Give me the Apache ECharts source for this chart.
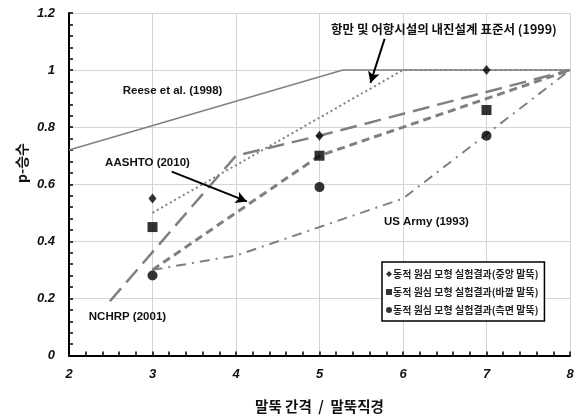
<!DOCTYPE html>
<html><head><meta charset="utf-8">
<script src="https://cdn.jsdelivr.net/npm/echarts@6/dist/echarts.min.js"></script>
<style>html,body{margin:0;padding:0;background:#fff}#c{width:583px;height:419px}</style>
</head><body><div id="c"></div>
<script>
// Design curves [s/D, p-multiplier]
var reese = [[2,0.72],[5.28,1.0],[8,1.0]];
var harbor = [[3,0.5],[6,1.0],[8,1.0]];
var aashto = [[3,0.3],[5,0.7],[8,1.0]];
var nchrp = [[2.49,0.19],[4,0.7],[5,0.77],[8,1.0]];
var usArmy = [[3,0.3],[4,0.35],[6,0.55],[8,1.0]];
// Test results
var centerPile = [[3,0.55],[5,0.77],[7,1.0]];
var outerPile = [[3,0.45],[5,0.70],[7,0.86]];
var sidePile = [[3,0.28],[5,0.59],[7,0.77]];
var seriesNames = ['동적 원심 모형 실험결과(중앙 말뚝)','동적 원심 모형 실험결과(바깥 말뚝)','동적 원심 모형 실험결과(측면 말뚝)'];
var xTicks = [2,3,4,5,6,7,8];
var yTicks = [0,0.2,0.4,0.6,0.8,1,1.2];
var yTitle = 'p-승수';

var gray = '#808080';
var latin = '"Liberation Sans", Arial, sans-serif';
var kr = '"Noto Sans CJK KR", sans-serif';
function lineSeries(name, data, width, type){
  return {name:name, type:'line', data:data, symbol:'none', silent:true,
    lineStyle:{color:gray, width:width, type:type}, z:2};
}
var chart = echarts.init(document.getElementById('c'));
chart.setOption({
  animation:false,
  grid:{left:69, right:13, top:13, bottom:60},
  xAxis:{type:'value', min:2, max:8, interval:1,
    axisLine:{lineStyle:{color:'#000', width:2}},
    axisTick:{inside:true, length:4, lineStyle:{color:'#000', width:1.5}},
    minorTick:{show:true, splitNumber:5, length:4, lineStyle:{color:'#000', width:1.5}},
    splitLine:{show:true, lineStyle:{color:'#d4d4d4', width:1}},
    axisLabel:{fontFamily:latin, fontWeight:'bold', fontStyle:'italic', fontSize:13, color:'#111', margin:12,
      formatter:function(v){return xTicks.indexOf(v)>=0 ? String(v) : '';}},
    name:'말뚝 간격  /  말뚝직경', nameLocation:'middle', nameGap:44, nameMoveOverlap:false,
    nameTextStyle:{fontFamily:kr, fontWeight:'bold', fontSize:14.5, color:'#111'}
  },
  yAxis:{type:'value', min:0, max:1.2, interval:0.2,
    axisLine:{show:true, lineStyle:{color:'#000', width:2}},
    axisTick:{show:true, inside:true, length:4, lineStyle:{color:'#000', width:1.5}},
    minorTick:{show:true, splitNumber:5, length:4, lineStyle:{color:'#000', width:1.5}},
    splitLine:{show:true, lineStyle:{color:'#d4d4d4', width:1}},
    axisLabel:{fontFamily:latin, fontWeight:'bold', fontStyle:'italic', fontSize:13, color:'#111', margin:14,
      formatter:function(v){var r=Math.round(v*10)/10; return String(r);}}
  },
  legend:{data:seriesNames, orient:'vertical', left:382, top:262, width:163,
    backgroundColor:'#fff', borderColor:'#000', borderWidth:1.5, padding:[7,6,6,4],
    itemWidth:6, itemHeight:6, itemGap:8,
    textStyle:{fontFamily:kr, fontSize:10, fontWeight:'bold', color:'#222', padding:[0,0,0,-4]}
  },
  series:[
    lineSeries('Reese', reese, 1.5, 'solid'),
    lineSeries('Harbor', harbor, 2, [2,3]),
    lineSeries('AASHTO', aashto, 3, [8,5]),
    lineSeries('NCHRP', nchrp, 2.5, [17,8]),
    lineSeries('USArmy', usArmy, 2, [10,6,2,6]),
    {name:seriesNames[0], type:'scatter', data:centerPile, symbol:'diamond', symbolSize:[8,10], itemStyle:{color:'#000'}, z:5},
    {name:seriesNames[1], type:'scatter', data:outerPile, symbol:'rect', symbolSize:10, itemStyle:{color:'#000'}, z:5},
    {name:seriesNames[2], type:'scatter', data:sidePile, symbol:'circle', symbolSize:10, itemStyle:{color:'#000'}, z:5},
    {name:'arrows', type:'line', data:[], silent:true,
      markLine:{silent:true, symbol:['none','arrow'], symbolSize:[9,11], label:{show:false},
        lineStyle:{color:'#000', width:2, type:'solid'},
        data:[
          [{coord:[5.78,1.11]},{coord:[5.61,0.955]}],
          [{coord:[3.23,0.644]},{coord:[4.13,0.54]}]
        ]}}
  ]
});
// annotation texts placed in data coordinates
var notes = [
  {t:'항만 및 어항시설의 내진설계 표준서 (1999)', x:6.49, y:1.142, f:kr, s:12.5},
  {t:'Reese et al. (1998)', x:3.24, y:0.927, f:latin, s:11.5},
  {t:'AASHTO (2010)', x:2.94, y:0.675, f:latin, s:11.5},
  {t:'NCHRP (2001)', x:2.70, y:0.135, f:latin, s:11.5},
  {t:'US Army (1993)', x:6.28, y:0.47, f:latin, s:11.5}
];
var g = notes.map(function(n){
  var p = chart.convertToPixel({gridIndex:0}, [n.x, n.y]);
  return {type:'text', x:p[0], y:p[1], z:10,
    style:{text:n.t, fontFamily:n.f, fontWeight:'bold', fontSize:n.s, fill:'#111', textAlign:'center', textVerticalAlign:'middle'}};
});
g.push({type:'text', left:15, top:143, rotation:Math.PI/2, z:10,
  style:{text:yTitle, fontFamily:kr, fontWeight:'bold', fontSize:14, fill:'#111'}});
chart.setOption({graphic:g});
</script></body></html>
